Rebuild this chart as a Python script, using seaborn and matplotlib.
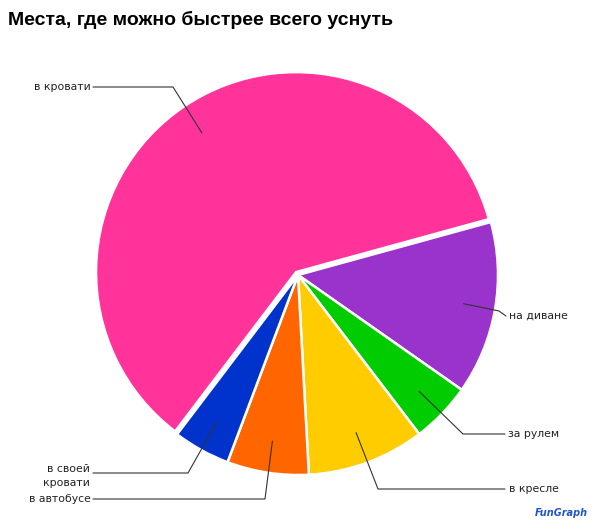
import numpy as np
import matplotlib
matplotlib.use("Agg")
import matplotlib.pyplot as plt
import seaborn as sns

# data
places = ["в кровати", "на диване", "за рулем", "в кресле", "в автобусе", "в своей\nкровати"]
shares = [60.4, 14.0, 4.9, 9.5, 6.6, 4.6]
colors = ["#FF3399", "#9933CC", "#00CC00", "#FFCC00", "#FF6600", "#0033CC"]

sns.set_style("white")
plt.rcParams["font.family"] = ["DejaVu Sans"]

W, H = 600, 529
fig = plt.figure(figsize=(6, 5.29), dpi=100)
ax = fig.add_axes([0, 0, 1, 1])

cx, cy, R = 298, H - 275, 200
# explode is in data units here (axes are in pixels)
wedges, _ = ax.pie(
    shares, colors=colors, startangle=232.8, counterclock=False,
    center=(cx, cy), radius=R, explode=[3.5, 0, 0, 0, 0, 0],
    wedgeprops=dict(edgecolor="white", linewidth=1.8), frame=True,
)
ax.set_xlim(0, W)
ax.set_ylim(0, H)
ax.set_aspect("equal")
ax.axis("off")

# leader line layout in pixel coords (y down): elbow, line end, text x, text y, align
layout = [
    ((173, 87), (93, 87), 91, 87, "right"),
    ((499, 311), (506, 316), 509, 316, "left"),
    ((463, 434), (505, 434), 508, 434, "left"),
    ((378, 489), (505, 489), 509, 489, "left"),
    ((265, 499), (93, 499), 91, 499, "right"),
    ((188, 473), (93, 473), 90, 476, "right"),
]

for w, label, (elbow, end, tx, ty, ha) in zip(wedges, places, layout):
    mid = np.deg2rad((w.theta1 + w.theta2) / 2)
    x0 = w.center[0] + 0.84 * R * np.cos(mid)
    y0 = w.center[1] + 0.84 * R * np.sin(mid)
    xs = [x0, elbow[0], end[0]]
    ys = [y0, H - elbow[1], H - end[1]]
    ax.plot(xs, ys, color="#333333", lw=0.8)
    ax.text(tx, H - ty, label, ha=ha, va="center", fontsize=7.8,
            color="#222222", linespacing=1.45)

fig.text(8 / W, 1 - 20 / H, "Места, где можно быстрее всего уснуть",
         fontsize=14, fontweight="bold", family="Liberation Sans",
         ha="left", va="center", color="#000000")

fig.text(588 / W, 1 - 513 / H, "FunGraph", fontsize=7, fontweight="bold",
         color="#2255CC", ha="right", va="center", style="italic")

fig.savefig("out.png", dpi=100)
